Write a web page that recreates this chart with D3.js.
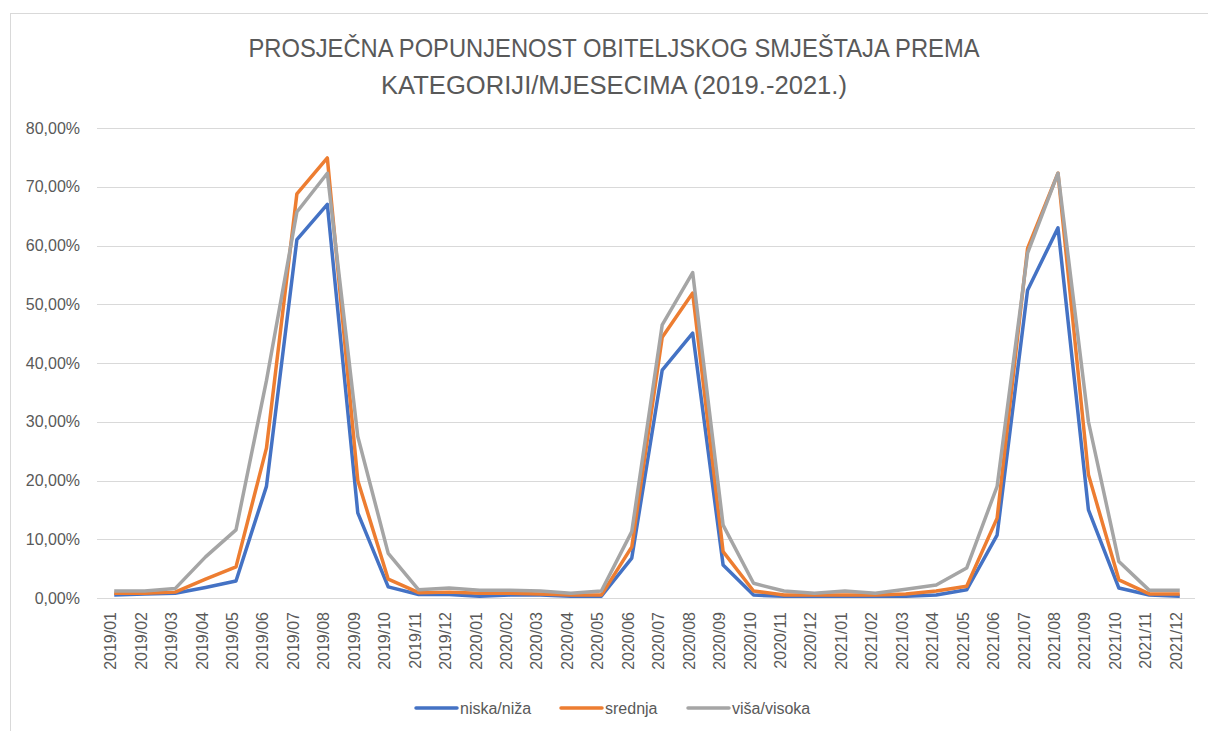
<!DOCTYPE html>
<html>
<head>
<meta charset="utf-8">
<script src="https://cdn.jsdelivr.net/npm/d3@7"></script>
<style>
  body { margin: 0; background: #fff; }
  svg text { font-family: "Liberation Sans", "DejaVu Sans", sans-serif; fill: #595959; }
</style>
</head>
<body>
<div id="chart"></div>
<script>
var months = [
  '2019/01','2019/02','2019/03','2019/04','2019/05','2019/06','2019/07','2019/08','2019/09','2019/10','2019/11','2019/12',
  '2020/01','2020/02','2020/03','2020/04','2020/05','2020/06','2020/07','2020/08','2020/09','2020/10','2020/11','2020/12',
  '2021/01','2021/02','2021/03','2021/04','2021/05','2021/06','2021/07','2021/08','2021/09','2021/10','2021/11','2021/12'
];
var niska = [0.5,0.7,0.8,1.8,2.9,19,61,67,14.5,1.9,0.6,0.6, 0.3,0.5,0.5,0.3,0.3,6.8,38.8,45.1,5.6,0.5,0.3,0.3, 0.3,0.3,0.3,0.5,1.4,10.7,52.4,63,15,1.7,0.5,0.3];
var srednja = [0.8,0.8,1.0,3.2,5.3,25.5,68.8,74.9,20,3.2,0.9,1.0, 0.8,0.8,0.7,0.5,0.5,8.7,44.4,51.9,7.9,1.2,0.5,0.5, 0.5,0.5,0.7,1.2,2.0,13.6,59.5,72.3,21,3.1,0.7,0.7];
var visa = [1.2,1.2,1.6,7.0,11.6,37,65.7,72.3,27.5,7.6,1.4,1.7, 1.3,1.3,1.2,0.8,1.2,11.3,46.5,55.4,12.4,2.5,1.2,0.8, 1.2,0.8,1.5,2.2,5.1,19,58.7,72.3,30,6.2,1.3,1.3];
var seriesNames = ['niska/niža', 'srednja', 'viša/visoka'];
var seriesColors = ['#4472C4', '#ED7D31', '#A5A5A5'];
var yTicks = [0, 10, 20, 30, 40, 50, 60, 70, 80];
var titleLines = ['PROSJEČNA POPUNJENOST OBITELJSKOG SMJEŠTAJA PREMA', 'KATEGORIJI/MJESECIMA (2019.-2021.)'];

var w = 1208, h = 731;
var svg = d3.select('#chart').append('svg').attr('width', w).attr('height', h);

// chart frame
svg.append('rect').attr('x', 10.5).attr('y', 13.5).attr('width', 1300).attr('height', 900)
  .attr('fill', 'none').attr('stroke', '#d9d9d9');

// title
svg.selectAll('text.title').data(titleLines).enter().append('text')
  .attr('class', 'title')
  .attr('x', 614)
  .attr('y', function (d, i) { return 57 + i * 37; })
  .attr('text-anchor', 'middle')
  .attr('font-size', 25)
  .attr('textLength', function (d, i) { return i === 0 ? 731 : 466; })
  .attr('lengthAdjust', 'spacingAndGlyphs')
  .text(function (d) { return d; });

var x = d3.scaleBand().domain(months).range([99, 1195]);
var y = d3.scaleLinear().domain([0, 80]).range([598, 128]);

// gridlines
svg.append('g').selectAll('line').data(yTicks).enter().append('line')
  .attr('x1', 97).attr('x2', 1195)
  .attr('y1', function (d) { return Math.round(y(d)) + 0.5; })
  .attr('y2', function (d) { return Math.round(y(d)) + 0.5; })
  .attr('stroke', '#d9d9d9').attr('stroke-width', 1);

// y labels
svg.append('g').selectAll('text').data(yTicks).enter().append('text')
  .attr('x', 80).attr('y', function (d) { return y(d) + 5.5; })
  .attr('text-anchor', 'end').attr('font-size', 16)
  .text(function (d) { return d3.format('.2f')(d).replace('.', ',') + '%'; });

// x labels
svg.append('g').selectAll('text').data(months).enter().append('text')
  .attr('transform', function (d) {
    return 'translate(' + (x(d) + x.bandwidth() / 2 + 2) + ',612) rotate(-90)';
  })
  .attr('text-anchor', 'end').attr('font-size', 16)
  .text(function (d) { return d; });

// lines
var line = d3.line()
  .x(function (d, i) { return x(months[i]) + x.bandwidth() / 2; })
  .y(function (d) { return y(d); });

svg.append('g').selectAll('path').data([niska, srednja, visa]).enter().append('path')
  .attr('d', line)
  .attr('fill', 'none')
  .attr('stroke', function (d, i) { return seriesColors[i]; })
  .attr('stroke-width', 3.5)
  .attr('stroke-linejoin', 'round');

// legend
var legendX = [416, 561, 688];
var lg = svg.append('g').selectAll('g').data(seriesNames).enter().append('g')
  .attr('transform', function (d, i) { return 'translate(' + legendX[i] + ',708)'; });
lg.append('line').attr('x1', 0).attr('x2', 41).attr('y1', 0).attr('y2', 0)
  .attr('stroke', function (d, i) { return seriesColors[i]; })
  .attr('stroke-width', 3.5).attr('stroke-linecap', 'round');
lg.append('text').attr('x', 44).attr('y', 6).attr('font-size', 16)
  .text(function (d) { return d; });
</script>
</body>
</html>
